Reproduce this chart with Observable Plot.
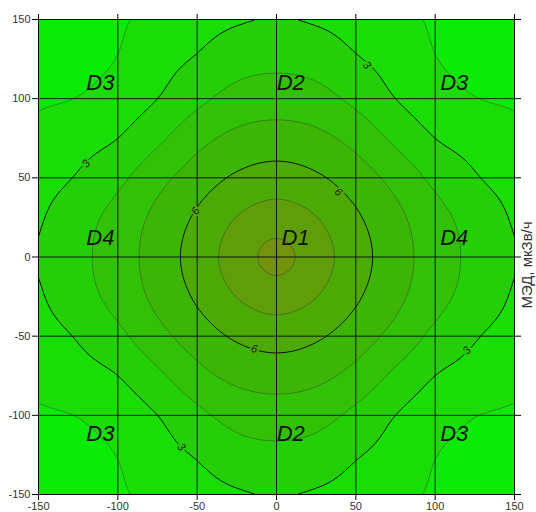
<!DOCTYPE html>
<html>
<head>
<meta charset="utf-8">
<script src="https://cdn.jsdelivr.net/npm/d3@7"></script>
<script src="https://cdn.jsdelivr.net/npm/@observablehq/plot@0.6"></script>
<style>
  html, body { margin: 0; padding: 0; background: #fff; }
  #chart { width: 536px; height: 512px; overflow: hidden; }
  svg { font-family: "Liberation Sans", Arial, sans-serif; }
</style>
</head>
<body>
<div id="chart"></div>
<script>
// grid coordinates (data units)
const gridX = [-150, -125, -100, -75, -50, -25, 0, 25, 50, 75, 100, 125, 150];
const gridY = [150, 125, 100, 75, 50, 25, 0, -25, -50, -75, -100, -125, -150]; // rows, top to bottom

const doseRows = [
  [1.30,1.50,1.88,2.26,2.62,2.89,3.06,2.89,2.62,2.26,1.88,1.50,1.30],
  [1.50,1.68,2.03,2.63,3.08,3.58,3.73,3.58,3.08,2.63,2.03,1.68,1.50],
  [1.88,2.03,2.43,3.00,3.76,4.35,4.53,4.35,3.76,3.00,2.43,2.03,1.88],
  [2.26,2.63,3.00,3.80,4.68,5.25,5.43,5.25,4.68,3.80,3.00,2.63,2.26],
  [2.62,3.08,3.76,4.68,5.49,6.14,6.43,6.14,5.49,4.68,3.76,3.08,2.62],
  [2.89,3.58,4.35,5.25,6.14,7.02,7.46,7.02,6.14,5.25,4.35,3.58,2.89],
  [3.06,3.73,4.53,5.43,6.43,7.46,8.25,7.46,6.43,5.43,4.53,3.73,3.06],
  [2.89,3.58,4.35,5.25,6.14,7.02,7.46,7.02,6.14,5.25,4.35,3.58,2.89],
  [2.62,3.08,3.76,4.68,5.49,6.14,6.43,6.14,5.49,4.68,3.76,3.08,2.62],
  [2.26,2.63,3.00,3.80,4.68,5.25,5.43,5.25,4.68,3.80,3.00,2.63,2.26],
  [1.88,2.03,2.43,3.00,3.76,4.35,4.53,4.35,3.76,3.00,2.43,2.03,1.88],
  [1.50,1.68,2.03,2.63,3.08,3.58,3.73,3.58,3.08,2.63,2.03,1.68,1.50],
  [1.30,1.50,1.88,2.26,2.62,2.89,3.06,2.89,2.62,2.26,1.88,1.50,1.30]
];

// contour levels
const fillLevels = [1, 2, 3, 4, 5, 6, 7, 8];
const lightLevels = [2, 4, 5, 7, 8];
const darkLevels = [3, 6];
const bandColors = ["#0ceb08", "#1add05", "#25cf05", "#31c205", "#3db505", "#4daa05", "#5f9e08", "#73930c"];

// contour labels
const labelText = ["3", "3", "3", "3", "6", "6", "6"];
const labelX = [-120, 57, -60, 120, -51, 39, -14];
const labelY = [59, 121, -120, -59, 29, 41, -58];
const labelAngle = [-52, 50, 50, -52, -58, 44, 12];

// zone labels
const zoneName = ["D3", "D2", "D3", "D4", "D1", "D4", "D3", "D2", "D3"];
const zoneX = [-111, 9, 112, -111, 12, 112, -111, 9, 112];
const zoneY = [110, 110, 110, 12, 12, 12, -112, -112, -112];

const ticks = [-150, -100, -50, 0, 50, 100, 150];
const legendTitle = "МЭД, мкЗв/ч";

// smooth (Catmull-Rom) rendering of the read grid
const nx = gridX.length, ny = gridY.length, step = 25;
function at(r, c) {
  if (c < 0) return 2 * at(r, 0) - at(r, 1);
  if (c >= nx) return 2 * at(r, nx - 1) - at(r, nx - 2);
  if (r < 0) return 2 * at(0, c) - at(1, c);
  if (r >= ny) return 2 * at(ny - 1, c) - at(ny - 2, c);
  return doseRows[r][c];
}
function cr(p0, p1, p2, p3, t) {
  return 0.5 * (2 * p1 + (-p0 + p2) * t + (2 * p0 - 5 * p1 + 4 * p2 - p3) * t * t + (-p0 + 3 * p1 - 3 * p2 + p3) * t * t * t);
}
function dose(x, y) {
  const fx = (x - gridX[0]) / step, fy = (gridY[0] - y) / step;
  const i = Math.max(0, Math.min(nx - 2, Math.floor(fx)));
  const j = Math.max(0, Math.min(ny - 2, Math.floor(fy)));
  const tx = fx - i, ty = fy - j;
  const rows = [];
  for (let r = j - 1; r <= j + 2; r++) {
    rows.push(cr(at(r, i - 1), at(r, i), at(r, i + 1), at(r, i + 2), tx));
  }
  return cr(rows[0], rows[1], rows[2], rows[3], ty);
}
const field = (x, y) => dose(x, y);

const labels = labelText.map((t, k) => ({t, x: labelX[k], y: labelY[k], a: labelAngle[k]}));
const zones = zoneName.map((n, k) => ({n, x: zoneX[k], y: zoneY[k]}));
const haloFor = (t) => bandColors[fillLevels.indexOf(+t)];

const extent = {x1: -150, x2: 150, y1: -150, y2: 150};
const fmt = (d) => String(d); // hyphen-minus like the original

const chart = Plot.plot({
  width: 536,
  height: 512,
  marginLeft: 38,
  marginRight: 22,
  marginTop: 19,
  marginBottom: 18,
  style: {fontFamily: "'Liberation Sans', Arial, sans-serif", fontSize: "11px", color: "#333", background: "white"},
  x: {domain: [-150, 150], ticks, tickFormat: fmt, tickSize: 6, tickPadding: 2, label: null},
  y: {domain: [-150, 150], ticks, tickFormat: fmt, tickSize: 6, tickPadding: 2, label: null},
  color: {type: "ordinal", domain: fillLevels, range: bandColors},
  marks: [
    Plot.contour({...extent, value: field, fill: "value", stroke: "none", thresholds: fillLevels, pixelSize: 1}),
    Plot.contour({...extent, value: field, fill: "none", stroke: "#3a3a3a", strokeOpacity: 0.45, strokeWidth: 1, thresholds: lightLevels, pixelSize: 1}),
    Plot.contour({...extent, value: field, fill: "none", stroke: "#111", strokeWidth: 1, thresholds: darkLevels, pixelSize: 1}),
    Plot.gridX(ticks, {stroke: "#000", strokeOpacity: 0.85, strokeWidth: 1}),
    Plot.gridY(ticks, {stroke: "#000", strokeOpacity: 0.85, strokeWidth: 1}),
    Plot.frame({stroke: "#000", strokeOpacity: 0.85}),
    Plot.axisX({anchor: "bottom", ticks, tickFormat: fmt, tickSize: 6, tickPadding: 2, stroke: "#000", fill: "#333", label: null}),
    Plot.axisY({anchor: "left", ticks, tickFormat: fmt, tickSize: 6, tickPadding: 2, stroke: "#000", fill: "#333", label: null}),
    Plot.axisX({anchor: "top", ticks, tickFormat: () => "", tickSize: 6, stroke: "#000", label: null}),
    Plot.axisY({anchor: "right", ticks, tickFormat: () => "", tickSize: 6, stroke: "#000", label: null}),
    Plot.text(labels, {x: "x", y: "y", text: "t", rotate: "a", fontSize: 11, fontStyle: "italic", fill: "#222", stroke: (d) => haloFor(d.t), strokeWidth: 4, paintOrder: "stroke"}),
    Plot.text(zones, {x: "x", y: "y", text: "n", fontSize: 22, fontStyle: "italic", fill: "#111"}),
    Plot.text([legendTitle], {frameAnchor: "right", textAnchor: "middle", dx: 13, dy: 8, rotate: -90, fontSize: 15, fill: "#333", clip: false})
  ]
});
document.getElementById("chart").appendChild(chart);
</script>
</body>
</html>
